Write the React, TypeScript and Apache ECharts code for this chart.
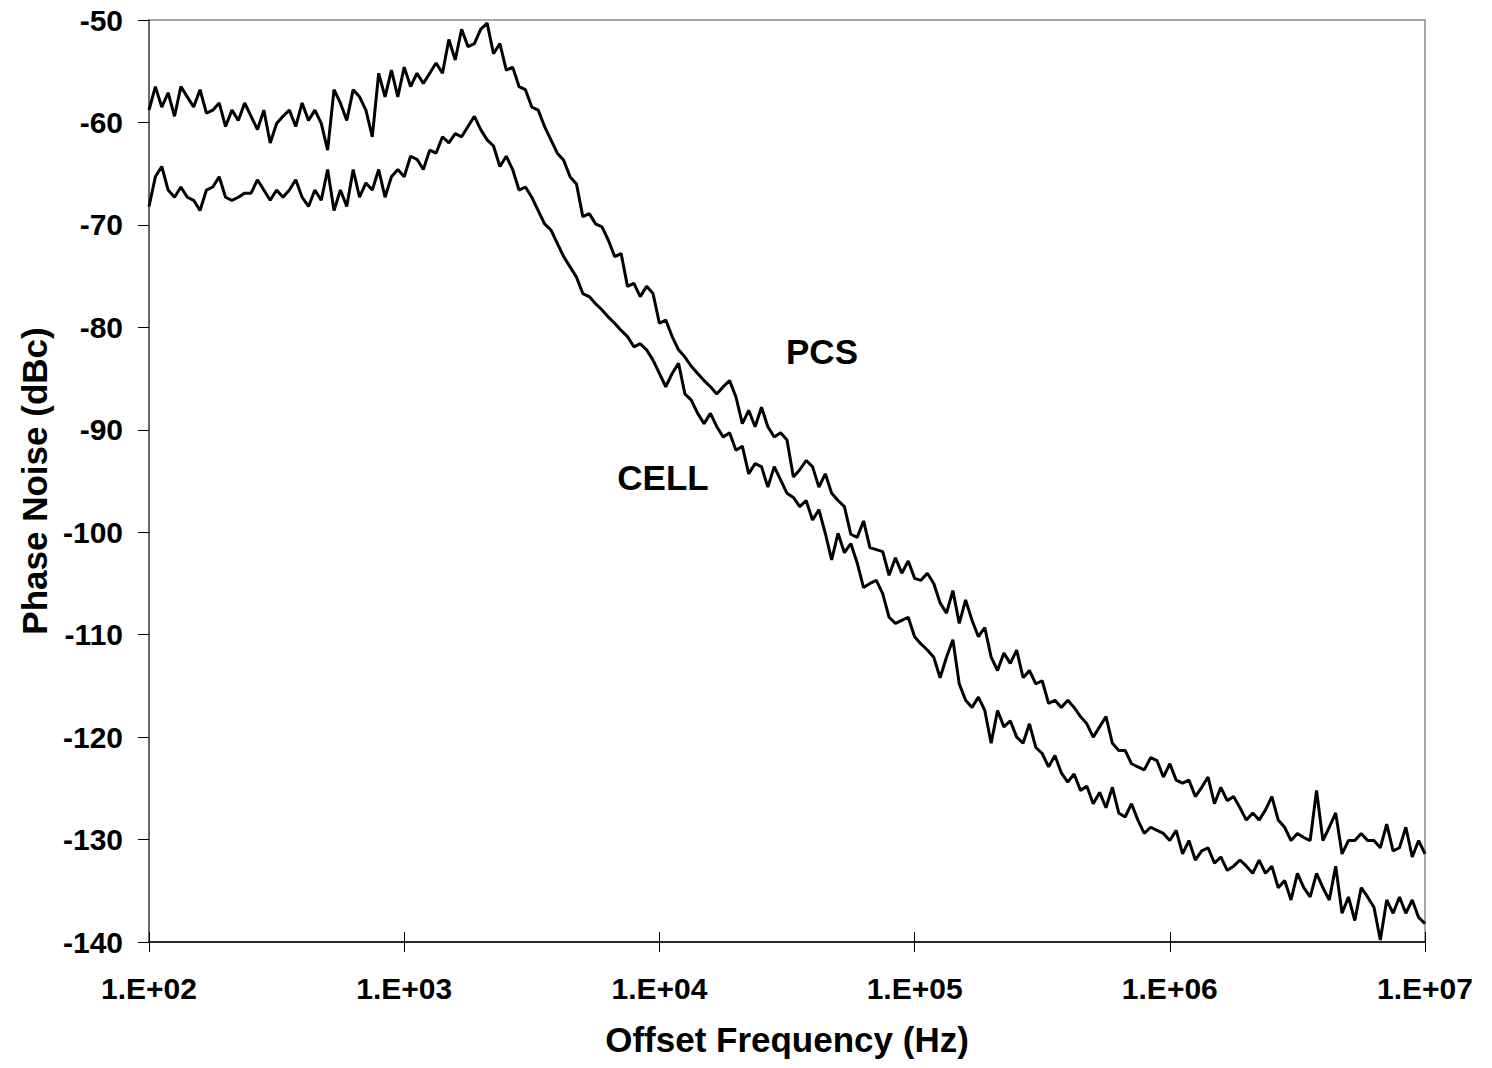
import React, { useEffect, useRef } from "react";
import * as echarts from "echarts";

// Sweep grid: 40 points per decade from 1e2 to 1e7 Hz
const POINTS_PER_DECADE = 40;
const START_DECADE = 2;
const N_POINTS = 201;
const FREQS: number[] = Array.from({ length: N_POINTS }, (_, i) => 10 ** (START_DECADE + i / POINTS_PER_DECADE));

// PCS phase noise (dBc)
const PCS: number[] = [
  -58.8, -56.5, -58.5, -57.1, -59.4, -56.5, -57.5, -58.5, -56.8, -59.1,
  -58.8, -58.1, -60.4, -58.8, -59.8, -58.1, -59.4, -60.7, -58.8, -62.0,
  -60.1, -59.4, -58.8, -60.4, -58.1, -59.8, -58.8, -60.1, -62.7, -56.8,
  -58.1, -59.8, -56.8, -57.5, -58.8, -61.4, -55.2, -57.5, -54.9, -57.5,
  -54.6, -56.5, -55.2, -56.2, -55.2, -54.2, -55.2, -51.9, -53.9, -50.9,
  -52.6, -52.3, -50.9, -50.3, -53.3, -52.3, -54.9, -54.6, -56.5, -56.8,
  -58.5, -58.8, -60.4, -61.7, -63.0, -63.7, -65.3, -66.0, -69.2, -68.9,
  -69.9, -70.2, -71.5, -73.1, -72.8, -76.0, -75.7, -77.0, -76.0, -76.7,
  -79.6, -79.3, -80.9, -82.2, -82.9, -83.8, -84.5, -85.2, -85.8, -86.5,
  -85.8, -85.2, -86.8, -89.4, -88.1, -89.7, -87.8, -89.7, -90.7, -90.3,
  -91.0, -94.6, -93.9, -93.0, -93.6, -95.6, -94.3, -96.2, -96.9, -97.5,
  -100.2, -100.5, -98.9, -101.5, -101.7, -101.9, -104.2, -102.5, -104.0, -102.8,
  -104.5, -104.7, -104.0, -105.0, -106.9, -107.9, -105.7, -108.9, -106.6, -108.6,
  -110.2, -109.3, -112.2, -113.5, -111.8, -112.8, -111.5, -114.2, -113.5, -114.8,
  -114.5, -116.7, -116.4, -117.1, -116.4, -117.1, -118.0, -118.7, -120.0, -119.0,
  -118.0, -120.6, -121.3, -121.3, -122.6, -122.9, -123.2, -122.0, -122.3, -123.9,
  -122.6, -124.2, -124.5, -124.2, -125.8, -124.9, -123.9, -126.5, -124.9, -126.2,
  -125.8, -126.9, -128.1, -127.4, -128.1, -127.1, -125.8, -128.1, -128.8, -130.1,
  -129.4, -129.8, -130.1, -125.2, -130.1, -128.8, -127.4, -131.4, -130.1, -130.1,
  -129.4, -130.1, -130.1, -130.8, -128.5, -131.1, -130.8, -128.8, -131.7, -130.1, -131.4,
];

// CELL phase noise (dBc)
const CELL: number[] = [
  -68.2, -65.3, -64.3, -66.6, -67.3, -66.3, -67.3, -67.6, -68.6, -66.6,
  -66.3, -65.3, -67.3, -67.6, -67.3, -66.9, -66.9, -65.6, -66.6, -67.6,
  -66.6, -67.3, -66.6, -65.6, -67.3, -68.2, -66.6, -67.6, -64.6, -68.6,
  -66.6, -68.2, -64.6, -67.3, -65.9, -66.6, -64.6, -67.3, -65.3, -64.6,
  -65.3, -63.3, -63.6, -64.6, -62.7, -63.0, -61.4, -62.0, -61.1, -61.4,
  -60.4, -59.4, -60.7, -61.7, -62.3, -64.3, -63.3, -64.6, -66.6, -66.3,
  -67.3, -68.6, -69.9, -70.5, -71.8, -73.1, -74.1, -75.1, -76.7, -77.0,
  -77.7, -78.3, -79.0, -79.6, -80.3, -80.9, -81.9, -81.6, -82.2, -83.2,
  -84.5, -85.8, -84.5, -83.5, -86.5, -87.1, -88.4, -89.4, -88.4, -89.7,
  -90.7, -90.3, -92.0, -91.6, -94.3, -93.3, -93.6, -95.6, -93.6, -94.9,
  -96.2, -96.6, -97.5, -96.9, -98.8, -97.8, -100.1, -102.7, -100.1, -102.0,
  -101.1, -103.0, -105.4, -105.0, -104.7, -106.0, -108.3, -108.9, -108.6, -108.3,
  -110.2, -110.9, -111.5, -112.2, -114.2, -112.2, -110.5, -114.8, -116.4, -117.1,
  -116.1, -117.4, -120.6, -117.4, -119.0, -118.4, -120.0, -120.6, -118.7, -121.0,
  -121.6, -122.9, -121.8, -123.5, -124.4, -123.6, -125.2, -124.8, -126.5, -125.4,
  -126.9, -124.9, -127.4, -127.8, -126.5, -128.1, -129.4, -128.8, -129.1, -129.4,
  -130.1, -129.1, -131.4, -130.1, -132.0, -131.1, -130.8, -132.3, -131.7, -133.0,
  -132.6, -132.0, -132.6, -133.3, -132.0, -133.3, -132.6, -134.7, -134.0, -135.9,
  -133.3, -134.7, -135.6, -133.3, -134.7, -135.9, -132.6, -137.2, -135.6, -137.9,
  -134.7, -135.6, -136.6, -139.8, -135.9, -137.2, -135.6, -137.2, -135.9, -137.6, -138.2,
];

const Y_MIN = -140;
const Y_MAX = -50;
const Y_STEP = 10;
const X_MIN = 100;
const X_MAX = 1e7;

const X_TITLE = "Offset Frequency (Hz)";
const Y_TITLE = "Phase Noise (dBc)";
const LABEL_PCS = "PCS";
const LABEL_CELL = "CELL";

const FONT = '"Liberation Sans", Arial, Helvetica, sans-serif';

function fmtX(v: number): string {
  const e = Math.round(Math.log10(v));
  return "1.E+" + (e < 10 ? "0" + e : String(e));
}

export default function App() {
  const ref = useRef<HTMLDivElement>(null);

  useEffect(() => {
    if (!ref.current) return;
    const chart = echarts.init(ref.current, undefined, { renderer: "svg" });

    const pcsData = FREQS.map((f, i) => [f, PCS[i]]);
    const cellData = FREQS.map((f, i) => [f, CELL[i]]);

    chart.setOption({
      animation: false,
      backgroundColor: "#ffffff",
      grid: {
        left: 149,
        right: 67,
        top: 20,
        bottom: 126,
        show: true,
        borderColor: "#8a8a8a",
        borderWidth: 1.5,
        backgroundColor: "transparent",
      },
      xAxis: [
        {
          type: "log",
          logBase: 10,
          min: X_MIN,
          max: X_MAX,
          position: "bottom",
          name: X_TITLE,
          nameLocation: "middle",
          nameGap: 80,
          nameTextStyle: { fontFamily: FONT, fontWeight: "bold", fontSize: 35, color: "#000" },
          axisLine: { show: true, lineStyle: { color: "#000", width: 1.5 } },
          axisTick: { show: true, inside: false, length: 10, lineStyle: { color: "#000", width: 1 } },
          minorTick: { show: false },
          splitLine: { show: false },
          axisLabel: {
            formatter: (v: number) => fmtX(v),
            fontFamily: FONT,
            fontWeight: "bold",
            fontSize: 30,
            color: "#000",
            margin: 31,
            showMinLabel: true,
            showMaxLabel: true,
          },
        },
        {
          type: "log",
          logBase: 10,
          min: X_MIN,
          max: X_MAX,
          position: "bottom",
          axisLine: { show: false },
          axisTick: { show: true, inside: true, length: 10, lineStyle: { color: "#000", width: 1 } },
          axisLabel: { show: false },
          splitLine: { show: false },
        },
      ],
      yAxis: {
        type: "value",
        min: Y_MIN,
        max: Y_MAX,
        interval: Y_STEP,
        name: Y_TITLE,
        nameLocation: "middle",
        nameGap: 96,
        nameTextStyle: { fontFamily: FONT, fontWeight: "bold", fontSize: 35, color: "#000" },
        axisLine: { show: true, lineStyle: { color: "#555", width: 1.5 } },
        axisTick: { show: true, inside: false, length: 11, lineStyle: { color: "#000", width: 1 } },
        splitLine: { show: false },
        axisLabel: {
          fontFamily: FONT,
          fontWeight: "bold",
          fontSize: 30,
          color: "#000",
          margin: 26,
        },
      },
      series: [
        {
          name: LABEL_PCS,
          type: "line",
          xAxisIndex: 0,
          data: pcsData,
          showSymbol: false,
          symbol: "none",
          lineStyle: { color: "#000", width: 3 },
          z: 3,
        },
        {
          name: LABEL_CELL,
          type: "line",
          xAxisIndex: 0,
          data: cellData,
          showSymbol: false,
          symbol: "none",
          lineStyle: { color: "#000", width: 3 },
          z: 3,
        },
      ],
      graphic: [
        {
          type: "text",
          x: 822,
          y: 351,
          style: {
            text: LABEL_PCS,
            fill: "#000",
            fontFamily: FONT,
            fontWeight: "bold",
            fontSize: 35,
            align: "center",
            verticalAlign: "middle",
          },
        },
        {
          type: "text",
          x: 663,
          y: 477,
          style: {
            text: LABEL_CELL,
            fill: "#000",
            fontFamily: FONT,
            fontWeight: "bold",
            fontSize: 35,
            align: "center",
            verticalAlign: "middle",
          },
        },
      ],
    });

    return () => {
      chart.dispose();
    };
  }, []);

  return (
    <div
      ref={ref}
      style={{ position: "fixed", left: 0, top: 0, width: 1492, height: 1068, background: "#fff" }}
    />
  );
}
